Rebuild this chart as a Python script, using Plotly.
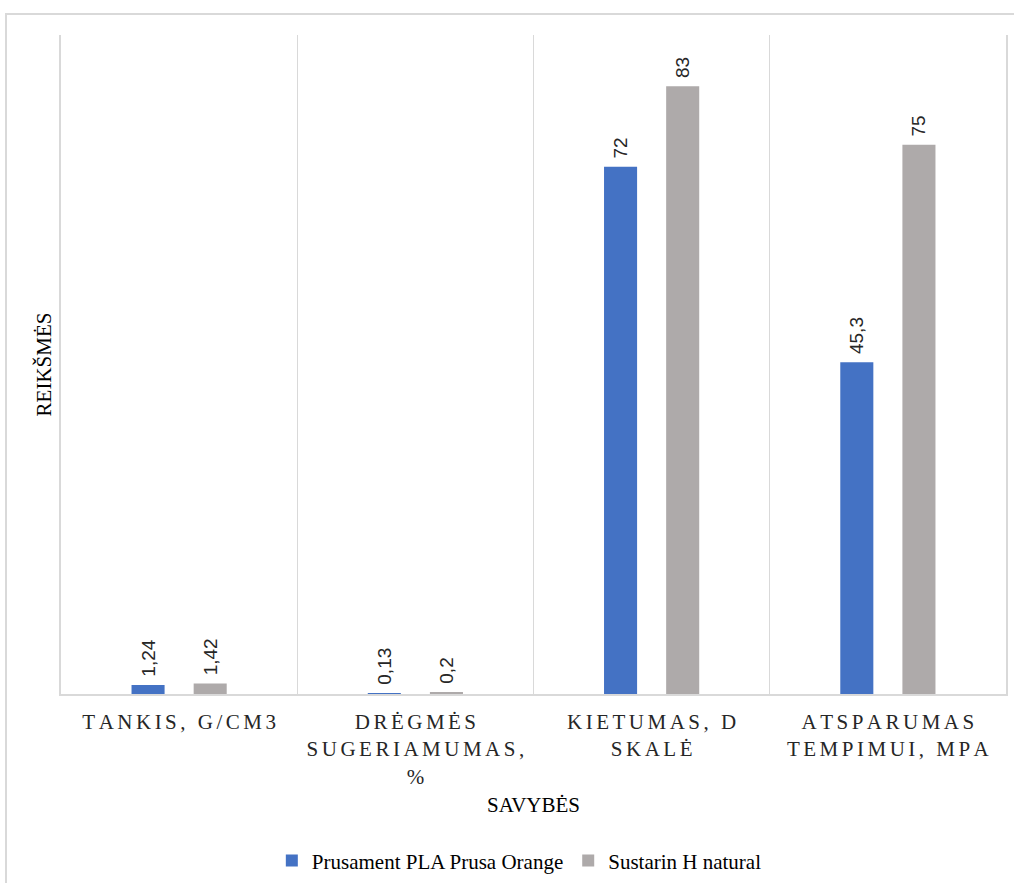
import plotly.graph_objects as go

# Material properties compared for two filaments
categories = ["TANKIS, G/CM3", "DRĖGMĖS SUGERIAMUMAS, %", "KIETUMAS, D SKALĖ", "ATSPARUMAS TEMPIMUI, MPA"]
tick_labels = ["TANKIS, G/CM3", "DRĖGMĖS\nSUGERIAMUMAS,\n%", "KIETUMAS, D\nSKALĖ", "ATSPARUMAS\nTEMPIMUI, MPA"]

series_names = ["Prusament PLA Prusa Orange", "Sustarin H natural"]
prusament_values = [1.24, 0.13, 72, 45.3]
sustarin_values = [1.42, 0.2, 83, 75]

BLUE = "#4472C4"
GREY = "#AEAAAA"
GRID = "#D9D9D9"
SERIF = "Liberation Serif"
SANS = "Liberation Sans"

W, H = 1014, 883
M_L, M_R, M_T, M_B = 61, 8, 35, 189


def spaced(label):
    # widen the letters of the axis labels with six-per-em spaces
    lines = label.split("\n")
    return "<br>".join("\u2006".join(line) for line in lines)


def fmt(v):
    # decimal comma; the leading no-break space lifts the label off the bar
    return "\u00a0" + ("%g" % v).replace(".", ",")


fig = go.Figure()
for name, vals, col in [(series_names[0], prusament_values, BLUE),
                        (series_names[1], sustarin_values, GREY)]:
    fig.add_trace(go.Bar(
        x=categories, y=vals, name=name,
        marker=dict(color=col, line=dict(width=0)),
        text=[fmt(v) for v in vals],
        textposition="outside", textangle=-90, constraintext="none",
        textfont=dict(family=SANS, size=19, color="#262626"),
        cliponaxis=False,
    ))

fig.update_layout(
    width=W, height=H,
    margin=dict(l=M_L, r=M_R, t=M_T, b=M_B, autoexpand=False),
    paper_bgcolor="white", plot_bgcolor="white",
    barmode="group", bargap=0.474, bargroupgap=0.468,
    showlegend=True,
    legend=dict(orientation="h", x=0.485, xanchor="center", y=-0.253, yanchor="middle",
                font=dict(family=SERIF, size=21, color="#000000"),
                itemwidth=30, traceorder="normal"),
    font=dict(family=SERIF),
)

fig.update_xaxes(
    type="category", automargin=False,
    tickvals=categories, ticktext=[spaced(t) for t in tick_labels],
    tickson="boundaries", ticks="", ticklabelstandoff=8,
    showgrid=True, gridcolor=GRID, gridwidth=1,
    showline=True, linecolor=GRID, linewidth=1.5,
    tickfont=dict(family=SERIF, size=21, color="#262626"),
    title=dict(text="SAVYBĖS", font=dict(family=SERIF, size=21, color="#000000"), standoff=10),
    zeroline=False,
)
fig.update_yaxes(
    range=[0, 90], showticklabels=False, showgrid=False, zeroline=False, automargin=False,
    showline=True, mirror=True, linecolor=GRID, linewidth=1.5,
    title=dict(text="REIKŠMĖS", font=dict(family=SERIF, size=21, color="#000000"), standoff=2),
)

# outer chart frame
pw, ph = W - M_L - M_R, H - M_T - M_B
def px_x(p): return (p - M_L) / pw
def px_y(p): return (H - M_B - p) / ph

fig.add_shape(type="rect", xref="paper", yref="paper",
              x0=px_x(6), x1=px_x(1030), y0=px_y(900), y1=px_y(14),
              line=dict(color=GRID, width=2), fillcolor="rgba(0,0,0,0)", layer="below")

fig.write_html("out.html")
